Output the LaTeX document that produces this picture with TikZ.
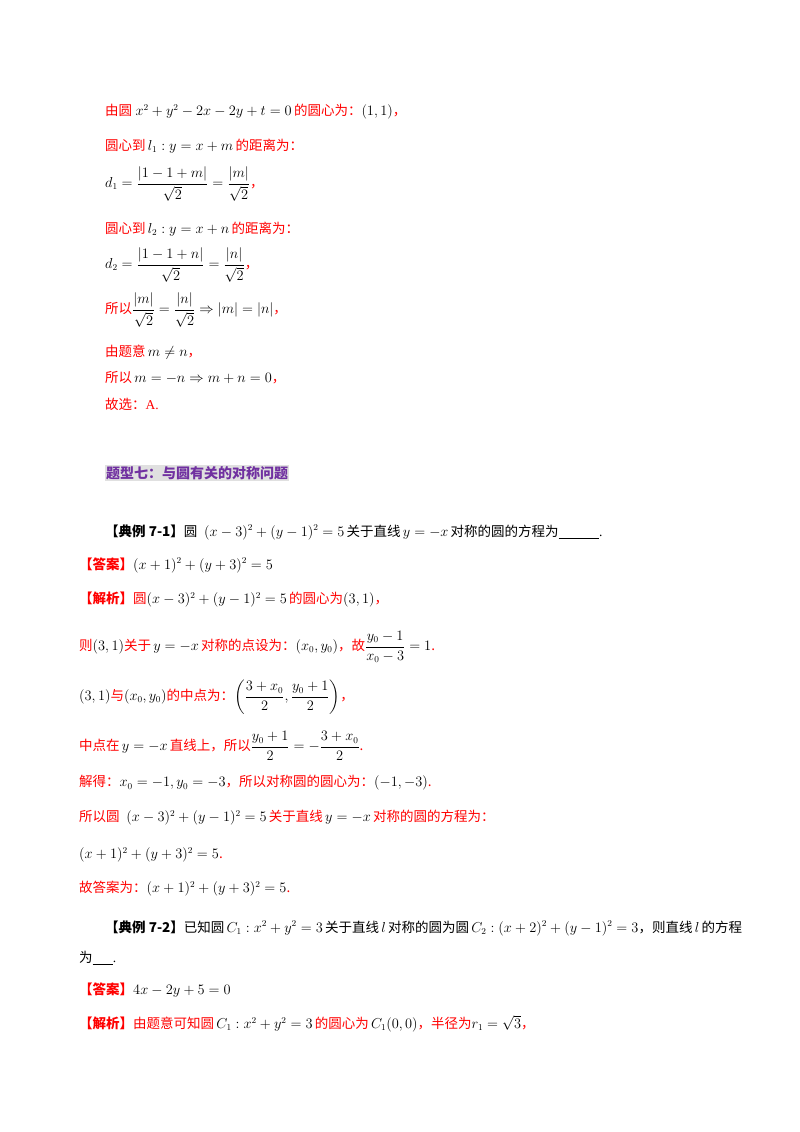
\documentclass[tikz,border=0pt]{standalone}
\usepackage{fontspec}
\usepackage{amsmath}
\setmainfont{Liberation Serif}
\newfontfamily\cjk{Noto Sans CJK SC}
\definecolor{myred}{HTML}{FF0000}
\definecolor{mypurple}{HTML}{7030A0}
\newcommand{\R}[1]{{\color{myred}\cjk #1}}
\newcommand{\Rb}[1]{{\color{myred}\cjk\bfseries #1}}
\begin{document}
\begin{tikzpicture}[x=1pt,y=-1pt,
  ln/.style={anchor=west,inner sep=0pt,font=\fontsize{13.5pt}{15pt}\selectfont}]
\useasboundingbox (0,0) rectangle (800,1132);
\node[ln] (a1) at (105,112) {\R{由圆} $x^2+y^2-2x-2y+t=0$\,\R{的圆心为：}$\left(1,1\right)$\R{，}};
\node[ln] (a2) at (105,146) {\R{圆心到}\,$l_1:y=x+m$\,\R{的距离为：}};
\node[ln] (a3) at (105,184) {$d_1=\dfrac{\left|1-1+m\right|}{\sqrt2}=\dfrac{|m|}{\sqrt2}$\R{，}};
\node[ln] (a4) at (105,229) {\R{圆心到}\,$l_2:y=x+n$\,\R{的距离为：}};
\node[ln] (a5) at (105,265) {$d_2=\dfrac{\left|1-1+n\right|}{\sqrt2}=\dfrac{|n|}{\sqrt2}$\R{，}};
\node[ln] (a6) at (105,310) {\R{所以}$\dfrac{|m|}{\sqrt2}=\dfrac{|n|}{\sqrt2}\Rightarrow|m|=|n|$\R{，}};
\node[ln] (a7) at (105,352) {\R{由题意}\,$m\neq n$\R{，}};
\node[ln] (a8) at (105,378) {\R{所以}\,$m=-n\Rightarrow m+n=0$\R{，}};
\node[ln] (a9) at (105,404) {\R{故选：}{\color{myred}A.}};
\node[ln,fill=black!12,inner sep=1pt,text=mypurple,font=\fontsize{14pt}{16pt}\selectfont\cjk\bfseries] (h) at (105,473) {题型七：与圆有关的对称问题};
\node[ln] (b1) at (105,532) {{\cjk\bfseries 【典例 7-1】}{\cjk 圆}\ \ $(x-3)^2+(y-1)^2=5$\,{\cjk 关于直线}\,$y=-x$\,{\cjk 对称的圆的方程为}\underline{\hspace{3em}}.};
\node[ln] (b2) at (79,565) {\Rb{【答案】}$(x+1)^2+(y+3)^2=5$};
\node[ln] (b3) at (79,600) {\Rb{【解析】}\R{圆}$(x-3)^2+(y-1)^2=5$\,\R{的圆心为}$(3,1)$\R{，}};
\node[ln] (b4) at (79,647) {\R{则}$(3,1)$\R{关于}\,$y=-x$\,\R{对称的点设为：}$(x_0,y_0)$\R{，故}$\dfrac{y_0-1}{x_0-3}=1$\R{.}};
\node[ln] (b5) at (79,697) {$(3,1)$\R{与}$(x_0,y_0)$\R{的中点为：}$\left(\dfrac{3+x_0}{2},\dfrac{y_0+1}{2}\right)$\R{，}};
\node[ln] (b6) at (79,746) {\R{中点在}\,$y=-x$\,\R{直线上，所以}$\dfrac{y_0+1}{2}=-\dfrac{3+x_0}{2}$\R{.}};
\node[ln] (b7) at (79,783) {\R{解得：}$x_0=-1,y_0=-3$\R{，所以对称圆的圆心为：}$(-1,-3)$\R{.}};
\node[ln] (b8) at (79,818) {\R{所以圆}\ \ $(x-3)^2+(y-1)^2=5$\,\R{关于直线}\,$y=-x$\,\R{对称的圆的方程为：}};
\node[ln] (b9) at (79,855) {$(x+1)^2+(y+3)^2=5$\R{.}};
\node[ln] (b10) at (79,889) {\R{故答案为：}$(x+1)^2+(y+3)^2=5$\R{.}};
\node[ln] (c1) at (105,928) {{\cjk\bfseries 【典例 7-2】}{\cjk 已知圆}\,$C_1:x^2+y^2=3$\,{\cjk 关于直线}\,$l$\,{\cjk 对称的圆为圆}\,$C_2:(x+2)^2+(y-1)^2=3${\cjk ，则直线}\,$l$\,{\cjk 的方程}};
\node[ln] (c2) at (79,958) {{\cjk 为}\underline{\hspace{1.5em}}.};
\node[ln] (c3) at (79,990) {\Rb{【答案】}$4x-2y+5=0$};
\node[ln] (c4) at (79,1024) {\Rb{【解析】}\R{由题意可知圆}\,$C_1:x^2+y^2=3$\,\R{的圆心为}\,$C_1(0,0)$\R{，半径为}$r_1=\sqrt3$\R{，}};
\end{tikzpicture}
\end{document}
